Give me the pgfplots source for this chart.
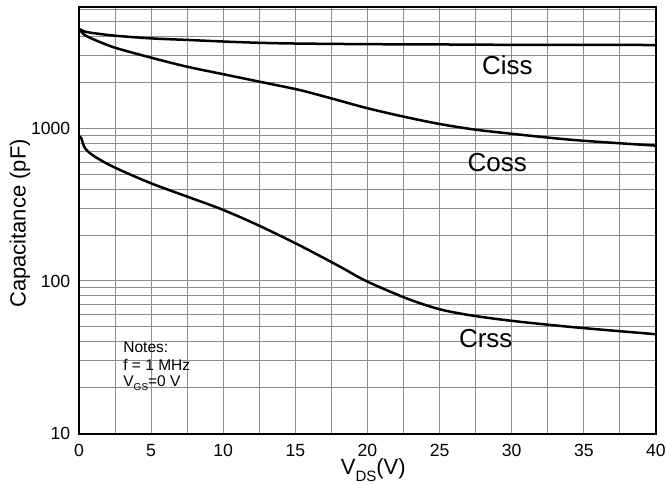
\documentclass[border=0pt]{standalone}
\usepackage{fontspec}
\setmainfont{Liberation Sans}
\usepackage{pgfplots}
\pgfplotsset{compat=1.18}
\begin{document}
\begin{tikzpicture}
\begin{axis}[
  at={(0,0)}, anchor=south west,
  scale only axis, width=288.5pt, height=213.2pt,
  xmin=0, xmax=40, ymode=log, ymin=10, ymax=6200,
  xtick={0,5,10,15,20,25,30,35,40},
  minor xtick={2.5,7.5,12.5,17.5,22.5,27.5,32.5,37.5},
  ytick={10,100,1000}, yticklabels={10,100,1000},
  minor ytick={20,30,40,50,60,70,80,90,200,300,400,500,600,700,800,900,2000,3000,4000,5000,6000},
  grid=both,
  major grid style={draw=black!45, line width=0.5pt},
  minor grid style={draw=black!45, line width=0.5pt},
  major tick length=0pt, minor tick length=0pt,
  axis line style={line width=1pt},
  /pgf/number format/assume math mode=true,
  ticklabel style={font=\fontsize{8.8}{10}\selectfont},
  xticklabel style={anchor=center, yshift=-8.2pt},
  yticklabel style={anchor=east, inner sep=0pt, xshift=-4.2pt},
  xlabel={V\raisebox{-0.3em}{\fontsize{7.5}{8}\selectfont DS}(V)},
  ylabel={Capacitance (pF)},
  label style={font=\fontsize{11}{13}\selectfont},
  xlabel style={at={(axis description cs:0.51,0)}, anchor=center, yshift=-18.2pt},
  ylabel style={at={(axis description cs:0,0.493)}, anchor=center, yshift=29.5pt},
  clip=true,
]
\addplot[black, line width=1.25pt, smooth, tension=0.5] coordinates {
(0,4470) (0.4,4300) (1,4200) (2.5,4040) (5,3880) (7.5,3790) (10,3700) (12.5,3630) (15,3590) (20,3555) (25,3540) (30,3520) (35,3515) (40,3510)};
\addplot[black, line width=1.25pt, smooth, tension=0.5] coordinates {
(0,4470) (0.4,4080) (1.1,3790) (2.5,3370) (5,2900) (7.5,2530) (10,2260) (12.5,2020) (15.3,1780) (17.6,1560) (19.9,1360) (22.5,1192) (25,1067) (27.3,985) (29.7,927) (34.3,838) (40,770)};
\addplot[black, line width=1.25pt, smooth, tension=0.5] coordinates {
(0,881) (0.15,865) (0.42,740) (1.1,652) (2.5,552) (5,436) (7.5,357) (10,292) (12.5,230) (15.3,171) (18.1,124) (19.9,100) (22.7,77) (25,65.3) (27.3,59.3) (30.1,54.7) (34.3,49.8) (40,44.8)};
\node[font=\fontsize{13}{15}\selectfont] at (axis cs:29.7,2600) {Ciss};
\node[font=\fontsize{13}{15}\selectfont] at (axis cs:29.0,593) {Coss};
\node[font=\fontsize{13}{15}\selectfont] at (axis cs:28.2,41.8) {Crss};
\node[anchor=west, inner sep=0pt, font=\fontsize{7.75}{9}\selectfont] at (axis cs:3.05,37.0) {Notes:};
\node[anchor=west, inner sep=0pt, font=\fontsize{7.75}{9}\selectfont] at (axis cs:3.05,28.2) {f = 1 MHz};
\node[anchor=west, inner sep=0pt, font=\fontsize{7.75}{9}\selectfont] at (axis cs:3.05,21.5) {V\raisebox{-0.25em}{\fontsize{5}{6}\selectfont GS}=0 V};
\end{axis}
\pgfresetboundingbox
\useasboundingbox (-39.5pt,-25.65pt) rectangle (293.5pt,216.85pt);
\end{tikzpicture}
\end{document}
